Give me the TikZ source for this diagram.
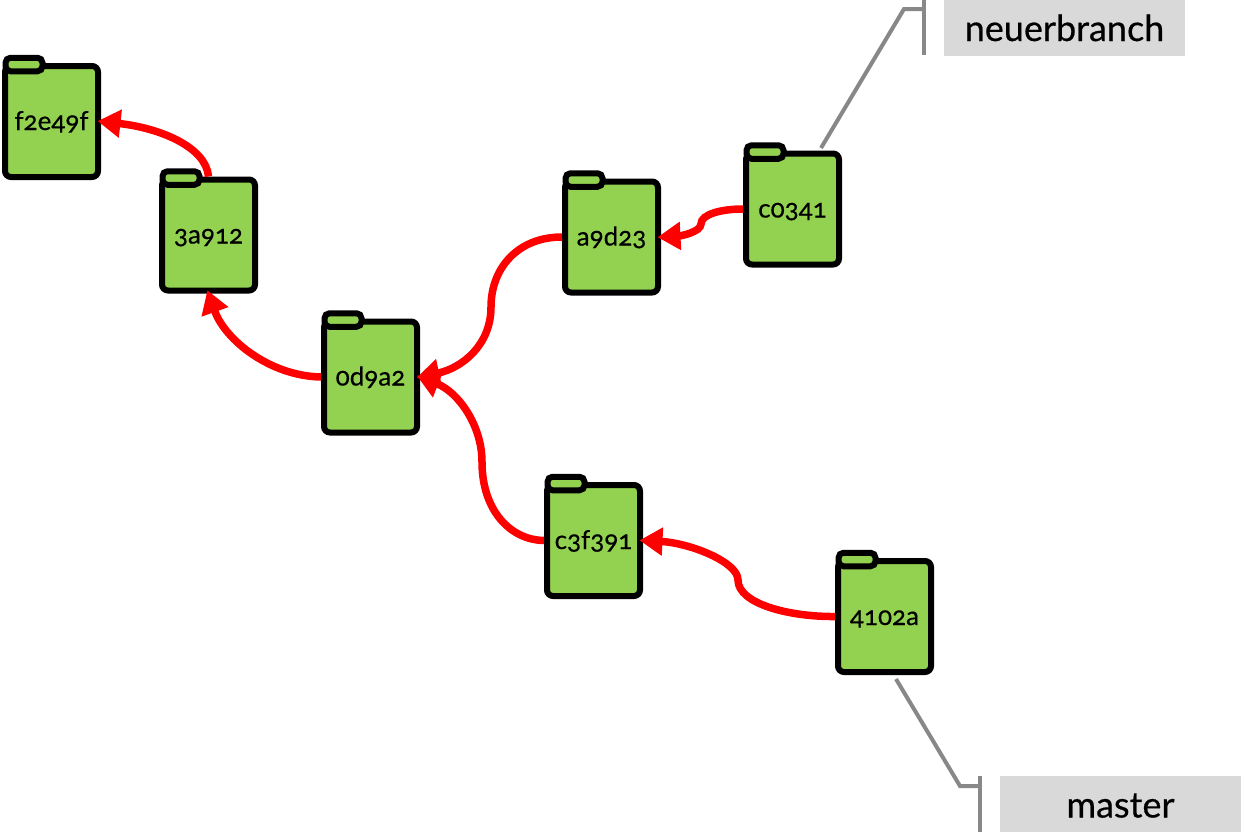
\documentclass[tikz,border=0pt]{standalone}
\usepackage{fontspec}
\setmainfont[Numbers=OldStyle,RawFeature={embolden=0.5}]{Lato}
\usetikzlibrary{arrows.meta}
\definecolor{folderfill}{HTML}{92D250}
\definecolor{labelfill}{HTML}{D9D9D9}
\definecolor{leader}{HTML}{888888}
\tikzset{
  folderbody/.style={draw=black,fill=folderfill,line width=6pt,rounded corners=6pt,minimum width=93pt,minimum height=111pt,inner sep=0pt},
  foldertab/.style={draw=black,fill=folderfill,line width=6pt,rounded corners=5pt,minimum width=37pt,minimum height=13.5pt,inner sep=0pt},
  commit/.style={font=\fontsize{26}{26}\selectfont,text=black,inner sep=0pt,text height=17pt,text depth=0pt},
  link/.style={draw=red,line width=7.5pt,shorten >=-3.5pt,-{Triangle[length=23pt,width=27pt]}},
  branchlabel/.style={fill=labelfill,minimum width=241pt,minimum height=56pt,inner sep=0pt,font=\fontsize{36}{36}\selectfont,text=black,text height=27pt,text depth=0pt},
  leaderline/.style={draw=leader,line width=4pt},
}
\newcommand{\folder}[3]{%
  \node[folderbody] (#1) at (#2,#3) {};
  \node[foldertab] (#1tab) at (#2-27.5,#3-57) {};
  \node[commit] (#1text) at (#2,#3) {#1};
}
\begin{document}
\begin{tikzpicture}[x=1pt,y=-1pt]
\useasboundingbox (0,0) rectangle (1243,835);
\folder{f2e49f}{51.5}{121.5}
\folder{3a912}{208.5}{235}
\folder{0d9a2}{370.5}{377}
\folder{a9d23}{611.5}{237}
\folder{c0341}{792.5}{209}
\folder{c3f391}{593.5}{540.5}
\folder{4102a}{884.5}{616.5}
\draw[link] (3a912.north) .. controls (206,147) and (160,128) .. (f2e49f.east);
\draw[link] (0d9a2.west) .. controls (270,376) and (225,340) .. (3a912.south);
\draw[link] (a9d23.west) .. controls (518,237) and (491,268) .. (491,307) .. controls (491,345) and (462,368) .. (0d9a2.east);
\draw[link] (c3f391.west) .. controls (510,540) and (482,510) .. (482,462) .. controls (482,425) and (458,392) .. (0d9a2.east);
\draw[link] (c0341.west) .. controls (722,209) and (701,214) .. (701,224) .. controls (701,232) and (680,236) .. (a9d23.east);
\draw[link] (4102a.west) .. controls (790,617) and (738,604) .. (738,580) .. controls (738,562) and (690,543) .. (c3f391.east);
\node[branchlabel] (neu) at (1064.5,27.5) {neuerbranch};
\node[branchlabel] (mas) at (1120.5,804) {master};
\coordinate (neuA) at (821,148);
\coordinate (neuB) at (904,9);
\coordinate (neuC) at (924,9);
\coordinate (neuT) at (924,0);
\coordinate (neuE) at (924,55);
\draw[leaderline] (neuA) -- (neuB) -- (neuC);
\draw[leaderline] (neuT) -- (neuE);
\coordinate (masA) at (896,679);
\coordinate (masB) at (960,786);
\coordinate (masC) at (980,786);
\coordinate (masT) at (980,776);
\coordinate (masE) at (980,832);
\draw[leaderline] (masA) -- (masB) -- (masC);
\draw[leaderline] (masT) -- (masE);
\end{tikzpicture}
\end{document}
